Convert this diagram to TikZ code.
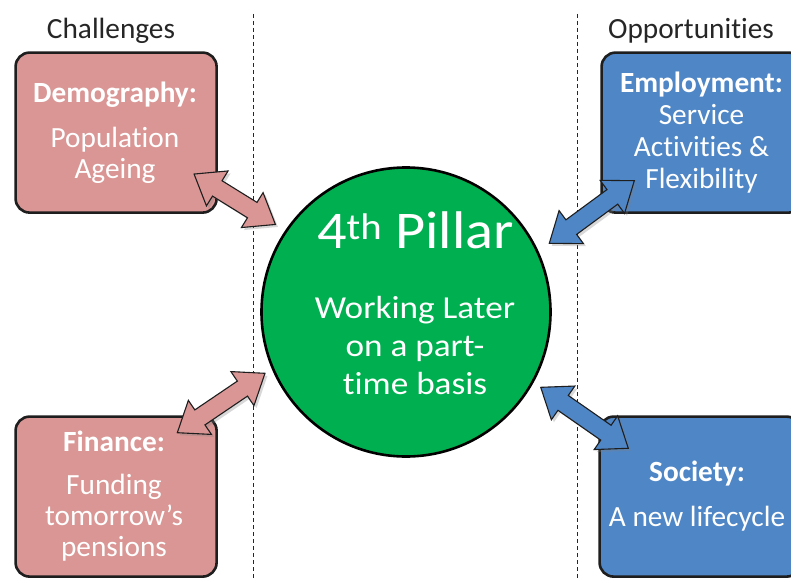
\documentclass[tikz,border=0pt]{standalone}
\usepackage{fontspec}
\setmainfont{Carlito}[Ligatures={NoCommon}]
\usetikzlibrary{shapes.arrows,shadows,calc}
\definecolor{pinkc}{HTML}{D99694}
\definecolor{bluec}{HTML}{4F86C6}
\definecolor{greenc}{HTML}{00B050}
\definecolor{edgec}{HTML}{1E1E1E}
\definecolor{titlec}{HTML}{262626}
\newcommand\blockarrow[4]{%
  \path let \p1=(#1), \p2=(#2),
    \n1={atan2(\y2-\y1,\x2-\x1)}, \n2={veclen(\x2-\x1,\y2-\y1)} in
    node[dblarrow, fill=#3, minimum height=\n2, rotate=\n1] (#4) at ($(#1)!0.5!(#2)$) {};}
\begin{document}
\begin{tikzpicture}[x=1pt,y=-1pt,
  boxstyle/.style={draw=edgec, line width=2.6pt, rounded corners=14pt, minimum width=201pt, minimum height=160pt, anchor=north west},
  chal/.style={boxstyle, fill=pinkc},
  oppo/.style={boxstyle, fill=bluec},
  title/.style={text=titlec, font=\fontsize{29.3}{32}\selectfont, anchor=base, inner sep=0pt},
  head/.style={text=white, font=\bfseries\fontsize{29.3}{31}\selectfont, anchor=base, inner sep=0pt},
  body/.style={text=white, font=\fontsize{29.3}{31}\selectfont, anchor=base, inner sep=0pt, align=center},
  circtext/.style={text=white, font=\fontsize{32}{37.7}\selectfont, anchor=base, inner sep=0pt, align=center, xscale=1.1, transform shape},
  divider/.style={draw=titlec, line width=0.9pt, dash pattern=on 4pt off 3pt},
  dblarrow/.style={double arrow, draw=edgec, line width=1.1pt, inner xsep=2pt, inner ysep=8.5pt,
    minimum width=0pt, double arrow head extend=11.5pt, double arrow tip angle=74,
    drop shadow={shadow xshift=2.5pt, shadow yshift=-2.5pt, opacity=0.3}}]
\useasboundingbox (0,0) rectangle (791,578);
\fill[white] (0,0) rectangle (791,578);
% dividers
\coordinate (d1t) at (253,14); \coordinate (d1b) at (253,578);
\coordinate (d2t) at (577,14); \coordinate (d2b) at (577,578);
\draw[divider] (d1t) -- (d1b);
\draw[divider] (d2t) -- (d2b);
% titles
\node[title] (tchal) at (111,38.3) {Challenges};
\node[title] (topp) at (691,38.3) {Opportunities};
% boxes
\node[chal] (demo) at (14.3,51.3) {};
\node[chal] (fin) at (14.3,415.3) {};
\node[oppo] (emp) at (600.3,51.3) {};
\node[oppo] (soc) at (598.3,415.3) {};
% circle
\node[circle, draw=black, line width=2.6pt, fill=greenc, minimum size=289pt] (pillar) at (406,312) {};
% box texts (multi-line nodes are placed by the baseline of their last line)
\node[head] (demoh) at (115,102.7) {Demography:};
\node[body] (demob) at (115,178) {Population\\Ageing};
\node[head] (finh) at (114,451) {Finance:};
\node[body] (finb) at (114,556.7) {Funding\\tomorrow’s\\pensions};
\node[head] (emph) at (701.5,92.7) {Employment:};
\node[body, font=\fontsize{29.3}{31.7}\selectfont] (empb) at (701.5,188.3) {Service\\Activities \&\\Flexibility};
\node[head] (soch) at (697,481.7) {Society:};
\node[body] (socb) at (697,526.7) {A new lifecycle};
% circle texts
\node[text=white, font=\fontsize{53}{56}\selectfont, anchor=base, inner sep=0pt, xscale=1.1, transform shape] (pt) at (415.5,248.3) {4\textsuperscript{th} Pillar};
\node[circtext] (pb) at (415,394) {Working Later\\on a part-\\time basis};
% arrow end points
\coordinate (a1s) at (194,174); \coordinate (a1e) at (275.5,224.5);
\coordinate (a2s) at (549.3,243.3); \coordinate (a2e) at (634.3,180.7);
\coordinate (a3s) at (177.3,432.7); \coordinate (a3e) at (265,373.3);
\coordinate (a4s) at (540.7,387.3); \coordinate (a4e) at (628.3,448.3);
\blockarrow{a1s}{a1e}{pinkc}{arrA}
\blockarrow{a2s}{a2e}{bluec}{arrB}
\blockarrow{a3s}{a3e}{pinkc}{arrC}
\blockarrow{a4s}{a4e}{bluec}{arrD}
\end{tikzpicture}
\end{document}
